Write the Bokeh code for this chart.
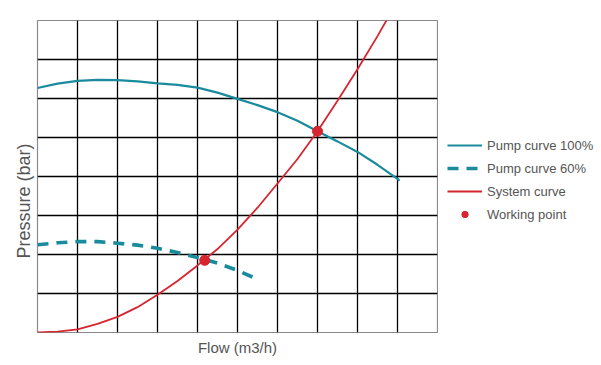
from bokeh.plotting import figure
from bokeh.layouts import row
from bokeh.models import Legend, LegendItem, Title, FixedTicker, Range1d
from bokeh.embed import file_html
from bokeh.resources import INLINE

# Data (grid units: flow 0..10, pressure 0..8)
pump100_flow = [0, 0.5, 1, 1.5, 2, 2.5, 3, 3.5, 4, 4.5, 5, 5.5, 6, 6.5, 7, 7.5, 8, 8.5, 9, 9.05]
pump100_pres = [6.27, 6.38, 6.45, 6.48, 6.47, 6.44, 6.39, 6.35, 6.28, 6.15, 5.99, 5.83, 5.65, 5.43, 5.16, 4.90, 4.63, 4.30, 3.94, 3.89]

pump60_flow = [0, 0.5, 1, 1.5, 2, 2.5, 3, 3.5, 4, 4.5, 5, 5.38]
pump60_pres = [2.25, 2.30, 2.33, 2.33, 2.29, 2.24, 2.16, 2.05, 1.92, 1.78, 1.59, 1.42]

system_flow = [0, 0.5, 1, 1.5, 2, 2.5, 3, 3.5, 4, 4.5, 5, 5.5, 6, 6.5, 7, 7.5, 8, 8.5, 8.75]
system_pres = [0, 0.02, 0.08, 0.22, 0.40, 0.65, 0.97, 1.32, 1.72, 2.14, 2.64, 3.20, 3.82, 4.45, 5.16, 5.94, 6.75, 7.60, 8.05]

work_flow = [4.18, 7.0]
work_pres = [1.85, 5.16]

grid_x = list(range(0, 11))
grid_y = list(range(0, 9))

legend_labels = ["Pump curve 100%", "Pump curve 60%", "System curve", "Working point"]
x_title = "Flow (m3/h)"
y_title = "Pressure (bar)"

TEAL = "#1a8b9d"
RED = "#d6252f"
TEXT = "#555555"
FONT = "Liberation Sans"

styles = [dict(line_color=TEAL, line_width=2.2),
          dict(line_color=TEAL, line_width=3.6, line_dash="11 8"),
          dict(line_color=RED, line_width=1.8)]
dot_style = dict(size=10, fill_color=RED, line_color=RED)

# ---- main chart ----
p = figure(width=438, height=364, output_backend="svg", toolbar_location=None,
           x_range=Range1d(0, 10), y_range=Range1d(0, 8), y_axis_location=None,
           min_border_left=37, min_border_top=20, min_border_right=1, min_border_bottom=32)

p.outline_line_color = "#8a8a8a"
p.outline_line_width = 1.2
p.background_fill_color = "white"
p.border_fill_color = "white"

p.xgrid.ticker = FixedTicker(ticks=grid_x)
p.ygrid.ticker = FixedTicker(ticks=grid_y)
for g in (p.xgrid, p.ygrid):
    g.grid_line_color = "black"
    g.grid_line_width = 1.3
    g.grid_line_alpha = 1

p.xaxis.ticker = FixedTicker(ticks=[])
p.xaxis.axis_line_color = None
p.xaxis.major_tick_line_color = None
p.xaxis.minor_tick_line_color = None
p.xaxis.axis_label = x_title
p.xaxis.axis_label_text_font = FONT
p.xaxis.axis_label_text_font_style = "normal"
p.xaxis.axis_label_text_font_size = "15px"
p.xaxis.axis_label_text_color = TEXT
p.xaxis.axis_label_standoff = 6

p.line(pump100_flow, pump100_pres, **styles[0])
p.line(pump60_flow, pump60_pres, **styles[1])
p.line(system_flow, system_pres, **styles[2])
p.scatter(work_flow, work_pres, **dot_style)

ytitle = Title(text=y_title, align="left", offset=74, vertical_align="bottom", standoff=7,
               text_font=FONT, text_font_size="18px", text_font_style="normal", text_color=TEXT)
p.add_layout(ytitle, "left")

# ---- legend panel (its renderers carry the same series, kept out of view) ----
q = figure(width=162, height=364, output_backend="svg", toolbar_location=None,
           x_range=Range1d(-100, -99), y_range=Range1d(-100, -99),
           x_axis_location=None, y_axis_location=None, min_border=0)
q.outline_line_color = None
q.xgrid.visible = False
q.ygrid.visible = False
q.border_fill_color = "white"
q.background_fill_color = "white"

l1 = q.line(pump100_flow, pump100_pres, **styles[0])
l2 = q.line(pump60_flow, pump60_pres, **styles[1])
l3 = q.line(system_flow, system_pres, **styles[2])
l4 = q.scatter(work_flow, work_pres, **dot_style)

legend = Legend(items=[LegendItem(label=legend_labels[0], renderers=[l1]),
                       LegendItem(label=legend_labels[1], renderers=[l2]),
                       LegendItem(label=legend_labels[2], renderers=[l3]),
                       LegendItem(label=legend_labels[3], renderers=[l4])],
                location=(9, 110), orientation="vertical",
                padding=0, margin=0, spacing=7, glyph_width=35, glyph_height=16,
                label_height=16, label_standoff=5,
                label_text_font=FONT, label_text_font_size="13px", label_text_color=TEXT,
                border_line_color=None, background_fill_alpha=0)
q.add_layout(legend)

layout = row(p, q)
open("out.html", "w").write(file_html(layout, INLINE))
